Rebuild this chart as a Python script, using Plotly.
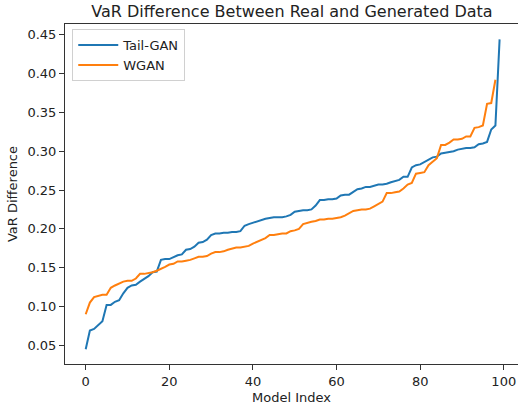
import plotly.graph_objects as go

tail_gan = [0.045, 0.069, 0.071, 0.076, 0.081, 0.102, 0.102, 0.106, 0.108, 0.117,
            0.124, 0.127, 0.128, 0.132, 0.135, 0.139, 0.144, 0.145, 0.160, 0.161,
            0.161, 0.164, 0.166, 0.167, 0.173, 0.174, 0.177, 0.182, 0.183, 0.186,
            0.192, 0.194, 0.194, 0.195, 0.195, 0.196, 0.196, 0.197, 0.204, 0.206,
            0.208, 0.209, 0.212, 0.213, 0.214, 0.215, 0.215, 0.215, 0.216, 0.218,
            0.222, 0.223, 0.224, 0.224, 0.225, 0.230, 0.237, 0.237, 0.238, 0.238,
            0.239, 0.243, 0.244, 0.244, 0.248, 0.251, 0.252, 0.254, 0.254, 0.256,
            0.257, 0.257, 0.258, 0.260, 0.262, 0.263, 0.267, 0.267, 0.279, 0.282,
            0.283, 0.286, 0.290, 0.292, 0.293, 0.297, 0.298, 0.299, 0.300, 0.302,
            0.303, 0.304, 0.304, 0.305, 0.309, 0.310, 0.312, 0.328, 0.333, 0.444]

wgan = [0.090, 0.105, 0.112, 0.114, 0.115, 0.115, 0.124, 0.127, 0.130, 0.132,
        0.133, 0.133, 0.136, 0.142, 0.142, 0.143, 0.144, 0.146, 0.148, 0.151,
        0.154, 0.155, 0.158, 0.158, 0.159, 0.160, 0.162, 0.164, 0.164, 0.165,
        0.168, 0.170, 0.170, 0.171, 0.173, 0.175, 0.176, 0.176, 0.177, 0.178,
        0.181, 0.183, 0.186, 0.188, 0.192, 0.192, 0.193, 0.194, 0.194, 0.197,
        0.198, 0.200, 0.206, 0.208, 0.209, 0.210, 0.212, 0.212, 0.213, 0.213,
        0.214, 0.215, 0.217, 0.220, 0.223, 0.224, 0.225, 0.225, 0.226, 0.229,
        0.232, 0.235, 0.246, 0.246, 0.247, 0.248, 0.252, 0.257, 0.259, 0.271,
        0.272, 0.273, 0.282, 0.287, 0.291, 0.308, 0.308, 0.311, 0.315, 0.315,
        0.316, 0.319, 0.319, 0.330, 0.331, 0.333, 0.361, 0.362, 0.392]

x_ticks = [0, 20, 40, 60, 80, 100]
y_ticks = [0.05, 0.10, 0.15, 0.20, 0.25, 0.30, 0.35, 0.40, 0.45]

font = "DejaVu Sans"
fig = go.Figure()
fig.add_trace(go.Scatter(x=list(range(len(tail_gan))), y=tail_gan, mode="lines",
                         name="Tail-GAN", line=dict(color="#1f77b4", width=2)))
fig.add_trace(go.Scatter(x=list(range(len(wgan))), y=wgan, mode="lines",
                         name="WGAN", line=dict(color="#ff7f0e", width=2)))

fig.update_layout(
    width=518, height=410,
    margin=dict(l=65, r=0, t=24, b=46),
    paper_bgcolor="white", plot_bgcolor="white",
    font=dict(family=font, size=13, color="#222"),
    title=dict(text="VaR Difference Between Real and Generated Data",
               x=0.501, xref="paper", xanchor="center", y=0.972, yref="container",
               yanchor="middle", font=dict(size=16, color="#222")),
    showlegend=True,
    legend=dict(x=0.016, y=0.985, xanchor="left", yanchor="top",
                bgcolor="white", bordercolor="#d0d0d0", borderwidth=1,
                font=dict(size=13), tracegroupgap=0, itemwidth=40),
    xaxis=dict(range=[-4.95, 103.4], tickvals=x_ticks, showgrid=False, zeroline=False,
               showline=True, linecolor="#333", linewidth=1, mirror=True,
               ticks="outside", ticklen=5, tickcolor="#333",
               title=dict(text="Model Index", standoff=5, font=dict(size=13))),
    yaxis=dict(range=[0.0259, 0.4638], tickvals=y_ticks, tickformat=".2f",
               showgrid=False, zeroline=False,
               showline=True, linecolor="#333", linewidth=1, mirror=False,
               ticks="outside", ticklen=5, tickcolor="#333",
               title=dict(text="VaR Difference", standoff=6, font=dict(size=13))),
)

fig.write_html("out.html")
